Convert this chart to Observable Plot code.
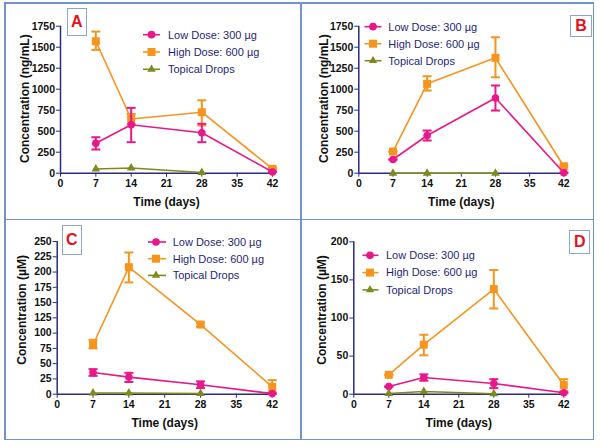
<!DOCTYPE html>
<html><head><meta charset="utf-8">
<script src="https://cdn.jsdelivr.net/npm/d3@7"></script>
<script src="https://cdn.jsdelivr.net/npm/@observablehq/plot@0.6"></script>
<style>
body{margin:0;background:#fff;}
#wrap{position:relative;width:600px;height:447px;font-family:Arial,"Liberation Sans",sans-serif;overflow:hidden;}
.pan{position:absolute;overflow:visible;}
.pan svg{display:block;overflow:visible;}
.ln{position:absolute;background:#7393cc;}
.badge{position:absolute;border:1.5px solid #8ea6cc;box-sizing:border-box;color:#e3121b;font-weight:bold;font-size:16px;display:flex;align-items:center;justify-content:center;background:#fff;}
</style></head><body><div id="wrap"></div>
<script>
// ---- data ----
const days = [7, 14, 28, 42];
const topicalDays = [7, 14, 28];
const seriesNames = ["Low Dose: 300 µg", "High Dose: 600 µg", "Topical Drops"];
const panelLetters = ["A", "B", "C", "D"];
const yLabels = ["Concentration (ng/mL)", "Concentration (ng/mL)", "Concentration (µM)", "Concentration (µM)"];
const xLabel = "Time (days)";
const xTicks = [0, 7, 14, 21, 28, 35, 42];
const yTicksA = [0, 250, 500, 750, 1000, 1250, 1500, 1750];
const yTicksB = [0, 250, 500, 750, 1000, 1250, 1500, 1750];
const yTicksC = [0, 25, 50, 75, 100, 125, 150, 175, 200, 225, 250];
const yTicksD = [0, 50, 100, 150, 200];

// Panel A
const aLow = [357, 576, 481, 15];
const aLowLo = [282, 369, 369, 15];
const aLowHi = [428, 778, 588, 15];
const aHigh = [1571, 645, 726, 52];
const aHighLo = [1468, 585, 568, 40];
const aHighHi = [1686, 705, 868, 64];
const aTop = [50, 62, 8];
// Panel B
const bLow = [163, 449, 895, 5];
const bLowLo = [163, 389, 746, 5];
const bLowHi = [163, 508, 1044, 5];
const bHigh = [258, 1064, 1373, 83];
const bHighLo = [258, 984, 1142, 70];
const bHighHi = [258, 1154, 1618, 96];
const bTop = [0, 0, 0];
// Panel C
const cLow = [35.5, 28, 15.5, 1];
const cLowLo = [30, 20, 10, 1];
const cLowHi = [41, 35, 21, 1];
const cHigh = [81, 208, 114, 12];
const cHighLo = [75, 183, 111, 3];
const cHighHi = [89, 232, 117, 23];
const cTop = [2, 2, 1];
// Panel D
const dLow = [10, 22, 14, 2];
const dLowLo = [10, 17.7, 8, 2];
const dLowHi = [10, 26, 19.7, 2];
const dHigh = [25.4, 65, 138, 12];
const dHighLo = [25.4, 51, 112.5, 4];
const dHighHi = [25.4, 78, 163, 19.7];
const dTop = [1, 3.5, 0.5];

const colors = ["#e8178a", "#f7941d", "#7f8a1c"];
const axisColor = "#2b2b80";
const capSymbol = {draw(ctx, size) { const w = Math.sqrt(size / Math.PI); ctx.moveTo(-w, 0); ctx.lineTo(w, 0); }};

function rows(v, lo, hi) { return days.map((d, i) => ({x: d, y: v[i], lo: lo[i], hi: hi[i]})); }
function trows(v) { return topicalDays.map((d, i) => ({x: d, y: v[i]})); }

const panels = [
  {left: 0, top: 0, w: 300, h: 219, m: [25.7, 28, 46.3, 60], yMax: 1750, yTicks: yTicksA,
   low: rows(aLow, aLowLo, aLowHi), high: rows(aHigh, aHighLo, aHighHi), topical: trows(aTop),
   ylab: {dx: -35, dy: -1}, xlab: 28.5,
   leg: {x1: 143, x2: 160, mx: 151.5, tx: 168, y0: 34.7, gap: 17.3},
   badge: [66.7, 8.3, 20, 28]},
  {left: 300, top: 0, w: 300, h: 219, m: [25.7, 36.7, 46.3, 58.3], yMax: 1750, yTicks: yTicksB,
   low: rows(bLow, bLowLo, bLowHi), high: rows(bHigh, bHighLo, bHighHi), topical: trows(bTop),
   ylab: {dx: -35, dy: -1}, xlab: 28.5,
   leg: {x1: 64.5, x2: 81.5, mx: 73, tx: 88.3, y0: 26.7, gap: 17},
   badge: [570, 15, 22, 22]},
  {left: 0, top: 222, w: 300, h: 225, m: [19, 28.3, 53.3, 56.7], yMax: 250, yTicks: yTicksC,
   low: rows(cLow, cLowLo, cLowHi), high: rows(cHigh, cHighLo, cHighHi), topical: trows(cTop),
   ylab: {dx: -35, dy: -8}, xlab: 29.3,
   leg: {x1: 148, x2: 166, mx: 156, tx: 172.7, y0: 20, gap: 16.7},
   badge: [61.7, 225.3, 20, 30]},
  {left: 300, top: 222, w: 300, h: 225, m: [19.3, 36.7, 53.3, 53.3], yMax: 200, yTicks: yTicksD,
   low: rows(dLow, dLowLo, dLowHi), high: rows(dHigh, dHighLo, dHighHi), topical: trows(dTop),
   ylab: {dx: -32, dy: -8}, xlab: 29.3,
   leg: {x1: 62.5, x2: 78.5, mx: 70, tx: 86, y0: 33.3, gap: 17.3},
   badge: [569.3, 230.3, 21, 23.5]}
];

const wrap = document.getElementById("wrap");
const symbols = [d3.symbolCircle, d3.symbolSquare, d3.symbolTriangle];
const symSizes = [46, 64, 30];

// panel frame lines
const frameLines = [
  [4, 2, 590, 1.5], [4, 438.5, 590, 1.5], [4, 2, 1.5, 438], [592.5, 2, 1.5, 438],
  [300, 2, 1.5, 438], [4, 218.5, 590, 1.5]
];
frameLines.forEach(([l, t, w, h]) => {
  const d = document.createElement("div");
  d.className = "ln";
  d.style.left = l + "px"; d.style.top = t + "px"; d.style.width = w + "px"; d.style.height = h + "px";
  wrap.appendChild(d);
});

panels.forEach((p, k) => {
  const svg = Plot.plot({
    width: p.w, height: p.h,
    marginTop: p.m[0], marginRight: p.m[1], marginBottom: p.m[2], marginLeft: p.m[3],
    style: {background: "transparent", overflow: "visible", fontFamily: "Arial, 'Liberation Sans', sans-serif"},
    x: {domain: [0, 42]},
    y: {domain: [0, p.yMax]},
    marks: [
      Plot.axisX({ticks: xTicks, tickSize: 4, tickPadding: 2, tickFormat: d3.format("d"), stroke: axisColor, fill: "#111", fontSize: 10.5, fontWeight: "bold", label: null}),
      Plot.axisY({ticks: p.yTicks, tickSize: 4, tickPadding: 1.5, tickFormat: d3.format("d"), stroke: axisColor, fill: "#111", fontSize: 10.5, fontWeight: "bold", label: null}),
      Plot.ruleY([0], {x1: 0, x2: 42, stroke: axisColor, strokeWidth: 1.5}),
      Plot.ruleX([0], {y1: 0, y2: p.yMax, stroke: axisColor, strokeWidth: 1.5}),
      // high dose
      Plot.line(p.high, {x: "x", y: "y", stroke: colors[1], strokeWidth: 1.6}),
      Plot.ruleX(p.high, {x: "x", y1: "lo", y2: "hi", stroke: colors[1], strokeWidth: 2}),
      Plot.dot(p.high, {x: "x", y: "lo", symbol: capSymbol, r: 4.5, stroke: colors[1], fill: "none", strokeWidth: 2}),
      Plot.dot(p.high, {x: "x", y: "hi", symbol: capSymbol, r: 4.5, stroke: colors[1], fill: "none", strokeWidth: 2}),
      Plot.dot(p.high, {x: "x", y: "y", symbol: "square", r: 4.5, fill: colors[1]}),
      // low dose
      Plot.line(p.low, {x: "x", y: "y", stroke: colors[0], strokeWidth: 1.6}),
      Plot.ruleX(p.low, {x: "x", y1: "lo", y2: "hi", stroke: colors[0], strokeWidth: 2}),
      Plot.dot(p.low, {x: "x", y: "lo", symbol: capSymbol, r: 4.5, stroke: colors[0], fill: "none", strokeWidth: 2}),
      Plot.dot(p.low, {x: "x", y: "hi", symbol: capSymbol, r: 4.5, stroke: colors[0], fill: "none", strokeWidth: 2}),
      Plot.dot(p.low, {x: "x", y: "y", symbol: "circle", r: 3.8, fill: colors[0]}),
      // topical
      Plot.line(p.topical, {x: "x", y: "y", stroke: colors[2], strokeWidth: 1.6}),
      Plot.dot(p.topical, {x: "x", y: "y", symbol: "triangle", r: 3.2, fill: colors[2]}),
      // axis labels
      Plot.text([yLabels[k]], {frameAnchor: "left", dx: p.ylab.dx, dy: p.ylab.dy, rotate: -90, fontSize: 12, fontWeight: "bold", fill: "#111", textAnchor: "middle"}),
      Plot.text([xLabel], {frameAnchor: "bottom", dy: p.xlab, fontSize: 12, fontWeight: "bold", fill: "#111", lineAnchor: "middle"})
    ]
  });
  // legend
  const g = d3.select(svg).append("g").attr("text-anchor", "start");
  seriesNames.forEach((name, i) => {
    const y = p.leg.y0 + i * p.leg.gap;
    g.append("line").attr("x1", p.leg.x1).attr("x2", p.leg.x2).attr("y1", y).attr("y2", y)
      .attr("stroke", colors[i]).attr("stroke-width", 1.6);
    g.append("path").attr("d", d3.symbol(symbols[i], symSizes[i])()).attr("transform", `translate(${p.leg.mx},${y})`).attr("fill", colors[i]);
    g.append("text").attr("x", p.leg.tx).attr("y", y).attr("dy", "0.35em").attr("text-anchor", "start")
      .attr("font-size", 11).attr("fill", "#1f1f78").attr("font-family", "Arial, 'Liberation Sans', sans-serif").text(name);
  });
  const holder = document.createElement("div");
  holder.className = "pan";
  holder.style.left = p.left + "px";
  holder.style.top = p.top + "px";
  holder.style.width = p.w + "px";
  holder.style.height = p.h + "px";
  holder.appendChild(svg);
  wrap.appendChild(holder);
  const b = document.createElement("div");
  b.className = "badge";
  b.style.left = p.badge[0] + "px"; b.style.top = p.badge[1] + "px";
  b.style.width = p.badge[2] + "px"; b.style.height = p.badge[3] + "px";
  b.textContent = panelLetters[k];
  wrap.appendChild(b);
});
</script></body></html>
